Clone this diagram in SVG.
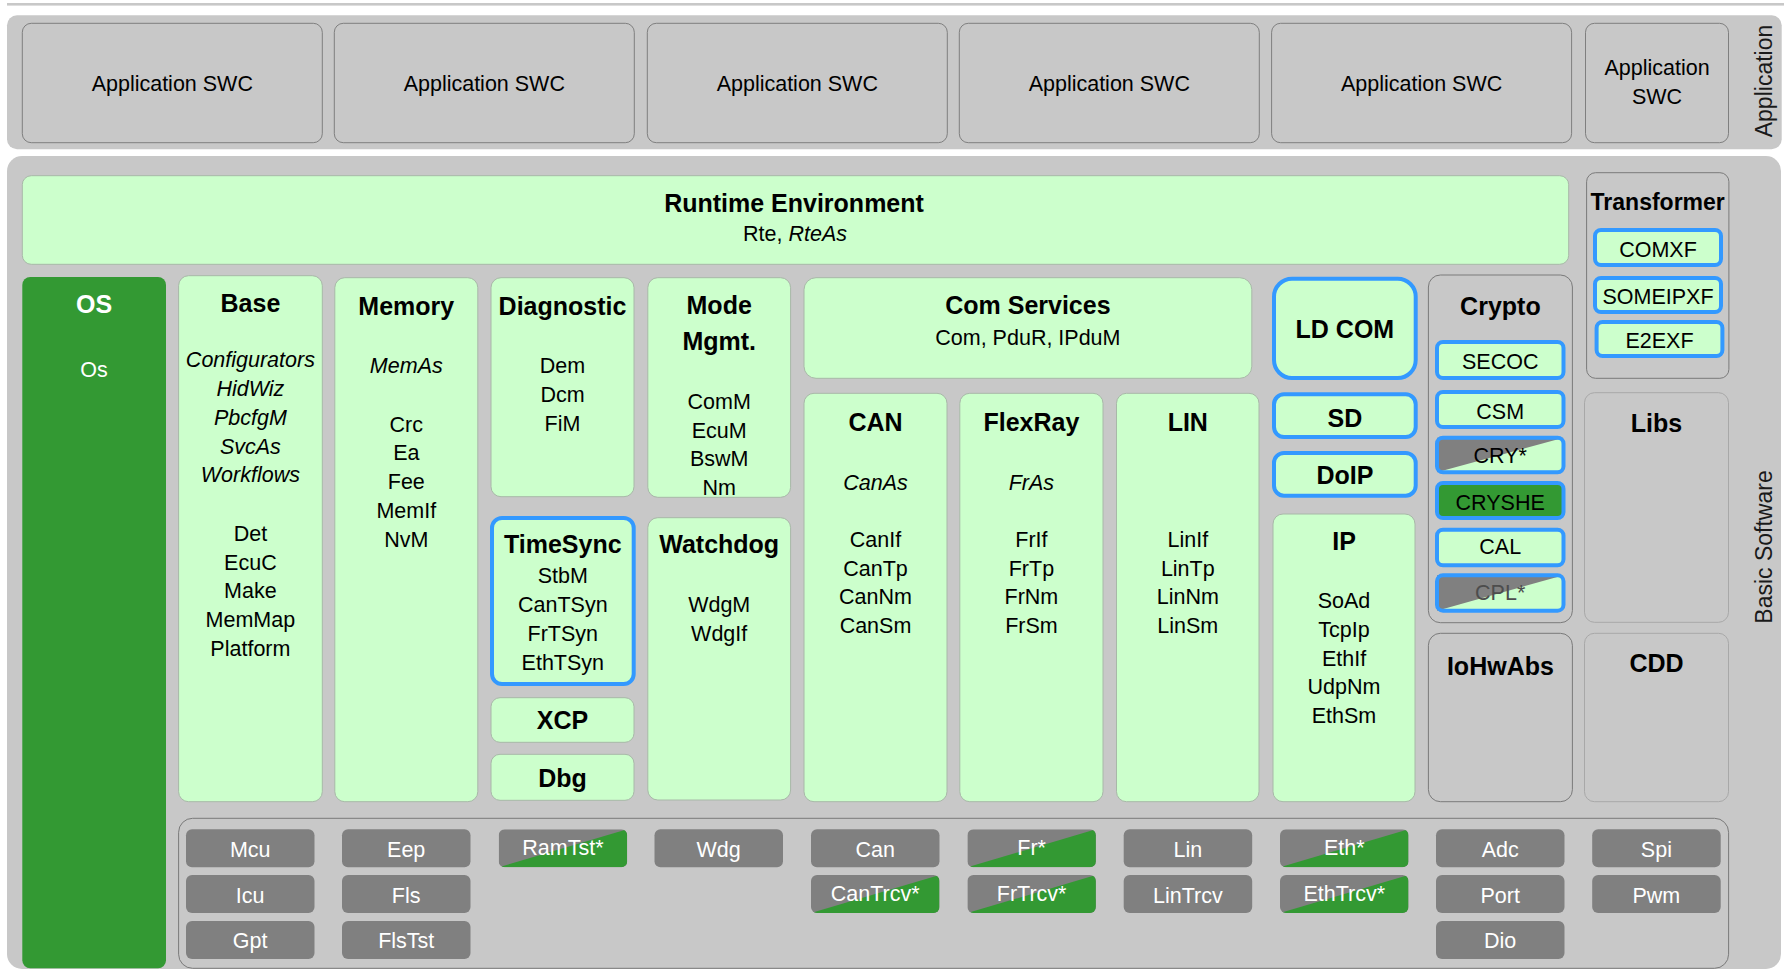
<svg xmlns="http://www.w3.org/2000/svg" width="1784" height="970" viewBox="0 0 1784 970">
<style>
.pan{fill:#c8c8c8}
.swc{fill:#c8c8c8;stroke:#7f7f7f;stroke-width:1}
.gb{fill:#c8c8c8;stroke:#7a7a7a;stroke-width:1}
.gl{fill:#c8c8c8;stroke:#a8a8a8;stroke-width:1}
.grn{fill:#ccffcc;stroke:#a8b8a8;stroke-width:1}
.blu{fill:#ccffcc;stroke:#3399ff;stroke-width:4}
.bln{fill:none;stroke:#3399ff;stroke-width:4}
.os{fill:#339933}
.mc{fill:#808080}
.dg{fill:#339933}
.t{font-family:'Liberation Sans',Arial,sans-serif;font-size:21.5px;fill:#000;text-anchor:middle}
.b{font-weight:bold;font-size:25px}
.i{font-style:italic}
.w{fill:#fff}
.side{font-size:23px;fill:#1a1a1a}
</style>
<defs>
<clipPath id="cb" clipPathUnits="objectBoundingBox"><rect x="0" y="0" width="1" height="1" rx="0.047" ry="0.16"/></clipPath>
</defs>

<rect x="7" y="3" width="1777" height="2.6" fill="#c8c8c8"/>

<g id="application-layer">
<rect class="pan" x="7" y="15.3" width="1774.7" height="134" rx="10"/>
<text class="t side" transform="translate(1771.5,81) rotate(-90)">Application</text>
</g>
<g id="swc1"><rect class="swc" x="22.3" y="23.3" width="300" height="119.4" rx="9"/><text class="t" x="172.3" y="90.7">Application SWC</text></g>
<g id="swc2"><rect class="swc" x="334.3" y="23.3" width="300" height="119.4" rx="9"/><text class="t" x="484.3" y="90.7">Application SWC</text></g>
<g id="swc3"><rect class="swc" x="647.3" y="23.3" width="300" height="119.4" rx="9"/><text class="t" x="797.3" y="90.7">Application SWC</text></g>
<g id="swc4"><rect class="swc" x="959.3" y="23.3" width="300" height="119.4" rx="9"/><text class="t" x="1109.3" y="90.7">Application SWC</text></g>
<g id="swc5"><rect class="swc" x="1271.6" y="23.3" width="300" height="119.4" rx="9"/><text class="t" x="1421.6" y="90.7">Application SWC</text></g>
<g id="swc6"><rect class="swc" x="1585.5" y="23.3" width="143" height="119.4" rx="9"/><text class="t" x="1657" y="75">Application</text><text class="t" x="1657" y="104">SWC</text></g>

<g id="bsw-layer">
<rect class="pan" x="7" y="156" width="1774" height="813" rx="15"/>
<text class="t side" transform="translate(1771.5,547) rotate(-90)">Basic Software</text>
</g>

<g id="rte"><rect class="grn" x="22.3" y="175.7" width="1546.4" height="88.6" rx="9"/>
<text class="t b" x="794" y="211.7">Runtime Environment</text>
<text class="t" x="795" y="241">Rte, <tspan class="i">RteAs</tspan></text></g>

<g id="transformer"><rect class="gb" x="1586.6" y="172.7" width="142.3" height="205.6" rx="9"/>
<text class="t b" x="1657.7" y="210" style="font-size:23px">Transformer</text></g>
<g id="comxf"><rect class="blu" x="1595" y="230" width="126" height="35" rx="6"/><text class="t" x="1658" y="256.7">COMXF</text></g>
<g id="someipxf"><rect class="blu" x="1595" y="278" width="126" height="34" rx="6"/><text class="t" x="1658" y="304.3">SOMEIPXF</text></g>
<g id="e2exf"><rect class="blu" x="1596.6" y="322" width="125.8" height="34" rx="6"/><text class="t" x="1659.5" y="347.7">E2EXF</text></g>

<g id="os"><rect class="os" x="22.3" y="277" width="143.7" height="691.3" rx="8"/>
<text class="t b w" x="94" y="313.3">OS</text>
<text class="t w" x="94" y="377.3">Os</text></g>

<g id="base"><rect class="grn" x="178.6" y="275.7" width="143.7" height="526" rx="10"/>
<text class="t b" x="250.4" y="311.7">Base</text>
<text class="t i" x="250.4" y="367.3">Configurators</text>
<text class="t i" x="250.4" y="396">HidWiz</text>
<text class="t i" x="250.4" y="424.8">PbcfgM</text>
<text class="t i" x="250.4" y="453.5">SvcAs</text>
<text class="t i" x="250.4" y="482.3">Workflows</text>
<text class="t" x="250.4" y="541">Det</text>
<text class="t" x="250.4" y="569.7">EcuC</text>
<text class="t" x="250.4" y="598.4">Make</text>
<text class="t" x="250.4" y="627.1">MemMap</text>
<text class="t" x="250.4" y="655.8">Platform</text></g>

<g id="memory"><rect class="grn" x="334.8" y="277.7" width="143" height="524" rx="10"/>
<text class="t b" x="406.3" y="315">Memory</text>
<text class="t i" x="406.3" y="373.3">MemAs</text>
<text class="t" x="406.3" y="431.7">Crc</text>
<text class="t" x="406.3" y="460.4">Ea</text>
<text class="t" x="406.3" y="489.1">Fee</text>
<text class="t" x="406.3" y="517.8">MemIf</text>
<text class="t" x="406.3" y="546.5">NvM</text></g>

<g id="diagnostic"><rect class="grn" x="491" y="277.7" width="143" height="219" rx="10"/>
<text class="t b" x="562.5" y="315">Diagnostic</text>
<text class="t" x="562.5" y="373.3">Dem</text>
<text class="t" x="562.5" y="402">Dcm</text>
<text class="t" x="562.5" y="430.7">FiM</text></g>

<g id="timesync"><rect class="blu" x="492" y="518" width="141.7" height="166" rx="10"/>
<text class="t b" x="562.8" y="553.3">TimeSync</text>
<text class="t" x="562.8" y="583.3">StbM</text>
<text class="t" x="562.8" y="612.2">CanTSyn</text>
<text class="t" x="562.8" y="641">FrTSyn</text>
<text class="t" x="562.8" y="670">EthTSyn</text></g>

<g id="xcp"><rect class="grn" x="491" y="697.7" width="143" height="44.6" rx="9"/><text class="t b" x="562.5" y="729.3">XCP</text></g>
<g id="dbg"><rect class="grn" x="491" y="754.3" width="143" height="46" rx="9"/><text class="t b" x="562.5" y="787.3">Dbg</text></g>

<g id="modemgmt"><rect class="grn" x="647.8" y="277.7" width="142.8" height="219.6" rx="10"/>
<text class="t b" x="719.2" y="314">Mode</text>
<text class="t b" x="719.2" y="350">Mgmt.</text>
<text class="t" x="719.2" y="409">ComM</text>
<text class="t" x="719.2" y="437.7">EcuM</text>
<text class="t" x="719.2" y="466.4">BswM</text>
<text class="t" x="719.2" y="495">Nm</text></g>

<g id="watchdog"><rect class="grn" x="647.8" y="517.7" width="142.8" height="282.3" rx="10"/>
<text class="t b" x="719.2" y="553.3">Watchdog</text>
<text class="t" x="719.2" y="612.3">WdgM</text>
<text class="t" x="719.2" y="641">WdgIf</text></g>

<g id="comservices"><rect class="grn" x="804" y="277.7" width="447.8" height="100.6" rx="12"/>
<text class="t b" x="1027.9" y="314">Com Services</text>
<text class="t" x="1027.9" y="345">Com, PduR, IPduM</text></g>

<g id="can"><rect class="grn" x="804" y="393.3" width="143" height="408.4" rx="10"/>
<text class="t b" x="875.5" y="430.7">CAN</text>
<text class="t i" x="875.5" y="490">CanAs</text>
<text class="t" x="875.5" y="546.7">CanIf</text>
<text class="t" x="875.5" y="575.5">CanTp</text>
<text class="t" x="875.5" y="604.3">CanNm</text>
<text class="t" x="875.5" y="633">CanSm</text></g>

<g id="flexray"><rect class="grn" x="959.8" y="393.3" width="143.2" height="408.4" rx="10"/>
<text class="t b" x="1031.4" y="430.7">FlexRay</text>
<text class="t i" x="1031.4" y="490">FrAs</text>
<text class="t" x="1031.4" y="546.7">FrIf</text>
<text class="t" x="1031.4" y="575.5">FrTp</text>
<text class="t" x="1031.4" y="604.3">FrNm</text>
<text class="t" x="1031.4" y="633">FrSm</text></g>

<g id="lin"><rect class="grn" x="1116.5" y="393.3" width="142.5" height="408.4" rx="10"/>
<text class="t b" x="1187.8" y="430.7">LIN</text>
<text class="t" x="1187.8" y="546.7">LinIf</text>
<text class="t" x="1187.8" y="575.5">LinTp</text>
<text class="t" x="1187.8" y="604.3">LinNm</text>
<text class="t" x="1187.8" y="633">LinSm</text></g>

<g id="ldcom"><rect class="blu" x="1274" y="278.7" width="141.7" height="99.3" rx="18"/><text class="t b" x="1344.9" y="338.3">LD COM</text></g>
<g id="sd"><rect class="blu" x="1274" y="394.3" width="141.7" height="42.7" rx="10"/><text class="t b" x="1344.9" y="426.7">SD</text></g>
<g id="doip"><rect class="blu" x="1274" y="453" width="141.7" height="42.7" rx="10"/><text class="t b" x="1344.9" y="484.3">DoIP</text></g>

<g id="ip"><rect class="grn" x="1273" y="514" width="142" height="287.7" rx="10"/>
<text class="t b" x="1344" y="550">IP</text>
<text class="t" x="1344" y="608.3">SoAd</text>
<text class="t" x="1344" y="637">TcpIp</text>
<text class="t" x="1344" y="665.7">EthIf</text>
<text class="t" x="1344" y="694.4">UdpNm</text>
<text class="t" x="1344" y="723.1">EthSm</text></g>

<g id="crypto"><rect class="gb" x="1428.4" y="275" width="144" height="347.7" rx="12"/>
<text class="t b" x="1500.4" y="315">Crypto</text></g>
<g id="secoc"><rect class="blu" x="1437" y="342" width="126.5" height="36" rx="6"/><text class="t" x="1500.2" y="369">SECOC</text></g>
<g id="csm"><rect class="blu" x="1437" y="392" width="126.5" height="35" rx="6"/><text class="t" x="1500.2" y="419">CSM</text></g>
<g id="cry"><rect x="1437" y="437.7" width="126.5" height="34.6" rx="6" fill="#ccffcc"/>
<polygon points="1437,437.7 1563.5,437.7 1437,472.3" fill="#808080"/>
<rect class="bln" x="1437" y="437.7" width="126.5" height="34.6" rx="6"/>
<text class="t" x="1500.2" y="463">CRY*</text></g>
<g id="cryshe"><rect class="blu" x="1437" y="483" width="126.5" height="35" rx="6" style="fill:#339933"/><text class="t" x="1500.2" y="510">CRYSHE</text></g>
<g id="cal"><rect class="blu" x="1437" y="529.7" width="126.5" height="35.6" rx="6"/><text class="t" x="1500.2" y="554">CAL</text></g>
<g id="cpl"><rect x="1437" y="575.3" width="126.5" height="35.4" rx="6" fill="#ccffcc"/>
<polygon points="1437,575.3 1563.5,575.3 1437,610.7" fill="#808080"/>
<rect class="bln" x="1437" y="575.3" width="126.5" height="35.4" rx="6"/>
<text class="t" x="1500.2" y="600" style="fill:#4d4d4d">CPL*</text></g>

<g id="libs"><rect class="gl" x="1584.5" y="392.7" width="144" height="229.6" rx="10"/><text class="t b" x="1656.5" y="432.3">Libs</text></g>
<g id="iohwabs"><rect class="gb" x="1428.4" y="633.3" width="144" height="168.4" rx="12"/><text class="t b" x="1500.4" y="675">IoHwAbs</text></g>
<g id="cdd"><rect class="gl" x="1584.5" y="633.3" width="144" height="168.4" rx="10"/><text class="t b" x="1656.5" y="671.7">CDD</text></g>

<g id="mcal"><rect class="gb" x="178.6" y="818.3" width="1550" height="150" rx="14"/></g>

<g id="mcu"><rect class="mc" x="186" y="829.3" width="128.5" height="38" rx="6"/><text class="t w" x="250.2" y="857.3">Mcu</text></g>
<g id="icu"><rect class="mc" x="186" y="875" width="128.5" height="38" rx="6"/><text class="t w" x="250.2" y="902.7">Icu</text></g>
<g id="gpt"><rect class="mc" x="186" y="921" width="128.5" height="38" rx="6"/><text class="t w" x="250.2" y="948.3">Gpt</text></g>
<g id="eep"><rect class="mc" x="342" y="829.3" width="128.5" height="38" rx="6"/><text class="t w" x="406.2" y="857.3">Eep</text></g>
<g id="fls"><rect class="mc" x="342" y="875" width="128.5" height="38" rx="6"/><text class="t w" x="406.2" y="902.7">Fls</text></g>
<g id="flstst"><rect class="mc" x="342" y="921" width="128.5" height="38" rx="6"/><text class="t w" x="406.2" y="948.3">FlsTst</text></g>
<g id="ramtst"><g clip-path="url(#cb)"><rect class="mc" x="498.7" y="829.3" width="128.5" height="38"/><polygon class="dg" points="498.7,867.3 627.2,829.3 627.2,867.3"/></g><text class="t w" x="562.9" y="855">RamTst*</text></g>
<g id="wdg"><rect class="mc" x="654.5" y="829.3" width="128.5" height="38" rx="6"/><text class="t w" x="718.7" y="857.3">Wdg</text></g>
<g id="can-drv"><rect class="mc" x="811" y="829.3" width="128.5" height="38" rx="6"/><text class="t w" x="875.2" y="857.3">Can</text></g>
<g id="cantrcv"><g clip-path="url(#cb)"><rect class="mc" x="811" y="875" width="128.5" height="38"/><polygon class="dg" points="811,913 939.5,875 939.5,913"/></g><text class="t w" x="875.2" y="901">CanTrcv*</text></g>
<g id="fr"><g clip-path="url(#cb)"><rect class="mc" x="967.4" y="829.3" width="128.5" height="38"/><polygon class="dg" points="967.4,867.3 1095.9,829.3 1095.9,867.3"/></g><text class="t w" x="1031.6" y="855">Fr*</text></g>
<g id="frtrcv"><g clip-path="url(#cb)"><rect class="mc" x="967.4" y="875" width="128.5" height="38"/><polygon class="dg" points="967.4,913 1095.9,875 1095.9,913"/></g><text class="t w" x="1031.6" y="901">FrTrcv*</text></g>
<g id="lin-drv"><rect class="mc" x="1123.7" y="829.3" width="128.5" height="38" rx="6"/><text class="t w" x="1187.9" y="857.3">Lin</text></g>
<g id="lintrcv"><rect class="mc" x="1123.7" y="875" width="128.5" height="38" rx="6"/><text class="t w" x="1187.9" y="902.7">LinTrcv</text></g>
<g id="eth"><g clip-path="url(#cb)"><rect class="mc" x="1280" y="829.3" width="128.5" height="38"/><polygon class="dg" points="1280,867.3 1408.5,829.3 1408.5,867.3"/></g><text class="t w" x="1344.2" y="855">Eth*</text></g>
<g id="ethtrcv"><g clip-path="url(#cb)"><rect class="mc" x="1280" y="875" width="128.5" height="38"/><polygon class="dg" points="1280,913 1408.5,875 1408.5,913"/></g><text class="t w" x="1344.2" y="901">EthTrcv*</text></g>
<g id="adc"><rect class="mc" x="1436" y="829.3" width="128.5" height="38" rx="6"/><text class="t w" x="1500.2" y="857.3">Adc</text></g>
<g id="port"><rect class="mc" x="1436" y="875" width="128.5" height="38" rx="6"/><text class="t w" x="1500.2" y="902.7">Port</text></g>
<g id="dio"><rect class="mc" x="1436" y="921" width="128.5" height="38" rx="6"/><text class="t w" x="1500.2" y="948.3">Dio</text></g>
<g id="spi"><rect class="mc" x="1592.2" y="829.3" width="128.5" height="38" rx="6"/><text class="t w" x="1656.4" y="857.3">Spi</text></g>
<g id="pwm"><rect class="mc" x="1592.2" y="875" width="128.5" height="38" rx="6"/><text class="t w" x="1656.4" y="902.7">Pwm</text></g>

<g id="connectors"></g>
</svg>
